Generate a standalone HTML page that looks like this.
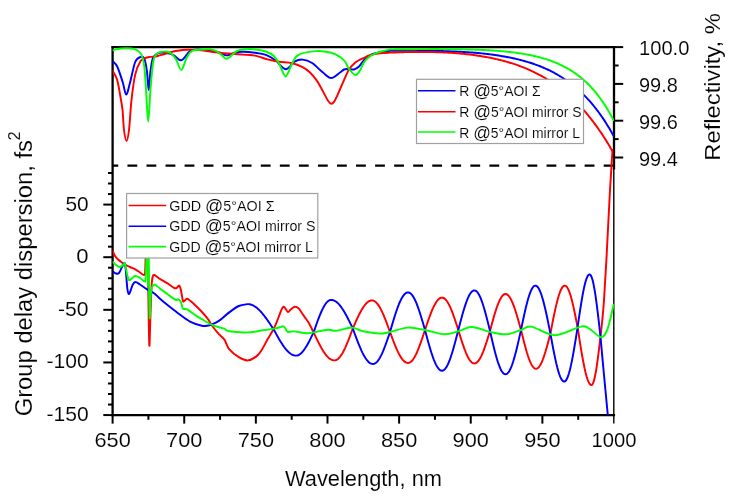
<!DOCTYPE html>
<html><head><meta charset="utf-8"><style>
html,body{margin:0;padding:0;background:#fff;width:735px;height:500px;overflow:hidden}
svg{display:block;will-change:transform}
text{font-family:"Liberation Sans",sans-serif;fill:#000;stroke:#fff;stroke-width:0.12px}
</style></head><body>
<svg width="735" height="500" viewBox="0 0 735 500">
<defs><clipPath id="pc"><rect x="112.6" y="46.5" width="501.4" height="368.6"/></clipPath></defs>
<rect x="0" y="0" width="735" height="500" fill="#fff"/>
<g stroke="#000" stroke-linecap="butt">
<line x1="103.30" y1="415.07" x2="112.60" y2="415.07" stroke-width="2"/>
<line x1="108.00" y1="404.55" x2="112.60" y2="404.55" stroke-width="2"/>
<line x1="108.00" y1="394.02" x2="112.60" y2="394.02" stroke-width="2"/>
<line x1="108.00" y1="383.50" x2="112.60" y2="383.50" stroke-width="2"/>
<line x1="108.00" y1="372.98" x2="112.60" y2="372.98" stroke-width="2"/>
<line x1="103.30" y1="362.45" x2="112.60" y2="362.45" stroke-width="2"/>
<line x1="108.00" y1="351.92" x2="112.60" y2="351.92" stroke-width="2"/>
<line x1="108.00" y1="341.40" x2="112.60" y2="341.40" stroke-width="2"/>
<line x1="108.00" y1="330.88" x2="112.60" y2="330.88" stroke-width="2"/>
<line x1="108.00" y1="320.35" x2="112.60" y2="320.35" stroke-width="2"/>
<line x1="103.30" y1="309.82" x2="112.60" y2="309.82" stroke-width="2"/>
<line x1="108.00" y1="299.30" x2="112.60" y2="299.30" stroke-width="2"/>
<line x1="108.00" y1="288.77" x2="112.60" y2="288.77" stroke-width="2"/>
<line x1="108.00" y1="278.25" x2="112.60" y2="278.25" stroke-width="2"/>
<line x1="108.00" y1="267.72" x2="112.60" y2="267.72" stroke-width="2"/>
<line x1="103.30" y1="257.20" x2="112.60" y2="257.20" stroke-width="2"/>
<line x1="108.00" y1="246.67" x2="112.60" y2="246.67" stroke-width="2"/>
<line x1="108.00" y1="236.15" x2="112.60" y2="236.15" stroke-width="2"/>
<line x1="108.00" y1="225.62" x2="112.60" y2="225.62" stroke-width="2"/>
<line x1="108.00" y1="215.10" x2="112.60" y2="215.10" stroke-width="2"/>
<line x1="103.30" y1="204.57" x2="112.60" y2="204.57" stroke-width="2"/>
<line x1="108.00" y1="194.05" x2="112.60" y2="194.05" stroke-width="2"/>
<line x1="108.00" y1="183.52" x2="112.60" y2="183.52" stroke-width="2"/>
<line x1="108.00" y1="173.00" x2="112.60" y2="173.00" stroke-width="2"/>
<line x1="112.60" y1="415.10" x2="112.60" y2="423.60" stroke-width="2"/>
<line x1="148.41" y1="415.10" x2="148.41" y2="419.80" stroke-width="2"/>
<line x1="184.23" y1="415.10" x2="184.23" y2="423.60" stroke-width="2"/>
<line x1="220.05" y1="415.10" x2="220.05" y2="419.80" stroke-width="2"/>
<line x1="255.86" y1="415.10" x2="255.86" y2="423.60" stroke-width="2"/>
<line x1="291.68" y1="415.10" x2="291.68" y2="419.80" stroke-width="2"/>
<line x1="327.49" y1="415.10" x2="327.49" y2="423.60" stroke-width="2"/>
<line x1="363.31" y1="415.10" x2="363.31" y2="419.80" stroke-width="2"/>
<line x1="399.12" y1="415.10" x2="399.12" y2="423.60" stroke-width="2"/>
<line x1="434.94" y1="415.10" x2="434.94" y2="419.80" stroke-width="2"/>
<line x1="470.75" y1="415.10" x2="470.75" y2="423.60" stroke-width="2"/>
<line x1="506.57" y1="415.10" x2="506.57" y2="419.80" stroke-width="2"/>
<line x1="542.38" y1="415.10" x2="542.38" y2="423.60" stroke-width="2"/>
<line x1="578.20" y1="415.10" x2="578.20" y2="419.80" stroke-width="2"/>
<line x1="613.80" y1="415.10" x2="613.80" y2="423.60" stroke-width="1.4"/>
<line x1="614.00" y1="47.10" x2="623.20" y2="47.10" stroke-width="2"/>
<line x1="614.00" y1="65.50" x2="618.60" y2="65.50" stroke-width="2"/>
<line x1="614.00" y1="83.90" x2="623.20" y2="83.90" stroke-width="2"/>
<line x1="614.00" y1="102.30" x2="618.60" y2="102.30" stroke-width="2"/>
<line x1="614.00" y1="120.70" x2="623.20" y2="120.70" stroke-width="2"/>
<line x1="614.00" y1="139.10" x2="618.60" y2="139.10" stroke-width="2"/>
<line x1="614.00" y1="157.50" x2="623.20" y2="157.50" stroke-width="2"/>
</g>
<g stroke="#000" fill="none" stroke-linecap="square">
<line x1="112.6" y1="47.1" x2="112.6" y2="415.1" stroke-width="2.3"/>
<line x1="112.6" y1="47.1" x2="614" y2="47.1" stroke-width="2.2"/>
<line x1="112.6" y1="415.1" x2="614" y2="415.1" stroke-width="2.2"/>
<line x1="613.8" y1="47.1" x2="613.8" y2="415.1" stroke-width="1.4"/>
<line x1="614" y1="47.1" x2="614" y2="169.5" stroke-width="2.3" stroke-linecap="butt"/>
</g>
<line x1="112.6" y1="165.6" x2="614" y2="165.6" stroke="#000" stroke-width="2.2" stroke-dasharray="9.8 9.25" stroke-dashoffset="4.2"/>
<g fill="none" stroke-width="1.95" stroke-linejoin="round" stroke-linecap="round" clip-path="url(#pc)">
<path d="M112.80,251.00 C113.17,251.83 114.13,254.58 115.00,256.00 C115.87,257.42 116.83,258.42 118.00,259.50 C119.17,260.58 120.67,261.58 122.00,262.50 C123.33,263.42 124.67,264.25 126.00,265.00 C127.33,265.75 128.33,266.20 130.00,267.00 C131.67,267.80 134.33,268.88 136.00,269.80 C137.67,270.72 138.67,271.63 140.00,272.50 C141.33,273.37 143.13,275.25 144.00,275.00 C144.87,274.75 144.90,275.17 145.20,271.00 C145.50,266.83 145.58,256.00 145.80,250.00 C146.02,244.00 146.38,237.50 146.50,235.00" stroke="#ff0000"/>
<path d="M147.50,235.00 C147.63,244.17 148.00,271.67 148.30,290.00 C148.60,308.33 148.97,340.00 149.30,345.00 C149.63,350.00 149.92,329.93 150.30,320.00 C150.68,310.07 151.18,292.63 151.60,285.40 C152.02,278.17 152.33,278.33 152.80,276.60 C153.27,274.87 153.20,274.60 154.40,275.00 C155.60,275.40 157.87,277.63 160.00,279.00 C162.13,280.37 164.80,281.70 167.20,283.20 C169.60,284.70 172.80,287.23 174.40,288.00 C176.00,288.77 176.00,288.20 176.80,287.80 C177.60,287.40 178.50,285.17 179.20,285.60 C179.90,286.03 180.40,287.90 181.00,290.40 C181.60,292.90 182.30,298.80 182.80,300.60 C183.30,302.40 183.30,301.50 184.00,301.20 C184.70,300.90 186.00,298.90 187.00,298.80 C188.00,298.70 188.50,299.40 190.00,300.60 C191.50,301.80 194.00,304.10 196.00,306.00 C198.00,307.90 200.00,309.80 202.00,312.00 C204.00,314.20 206.40,317.03 208.00,319.20 C209.60,321.37 209.93,322.67 211.60,325.00 C213.27,327.33 215.87,330.77 218.00,333.20 C220.13,335.63 222.53,336.93 224.40,339.60 C226.27,342.27 226.80,346.27 229.20,349.20 C231.60,352.13 235.73,355.33 238.80,357.20 C241.87,359.07 244.67,360.53 247.60,360.40 C250.53,360.27 254.00,358.22 256.40,356.40 C258.80,354.58 260.12,352.38 262.00,349.50 C263.88,346.62 265.70,342.63 267.70,339.10 C269.70,335.57 272.20,331.90 274.00,328.30 C275.80,324.70 277.30,320.50 278.50,317.50 C279.70,314.50 280.40,312.07 281.20,310.30 C282.00,308.53 282.62,307.23 283.30,306.90 C283.98,306.57 284.52,307.43 285.30,308.30 C286.08,309.17 287.08,311.92 288.00,312.10 C288.92,312.28 289.68,310.28 290.80,309.40 C291.92,308.52 293.42,306.98 294.70,306.80 C295.98,306.62 297.28,307.23 298.50,308.30 C299.72,309.37 300.92,311.67 302.00,313.20 C303.08,314.73 303.87,315.87 305.00,317.50 C306.13,319.13 307.37,320.52 308.80,323.00 C310.23,325.48 312.80,330.83 313.60,332.40 L313.60,332.40 L314.59,334.49 L315.58,336.57 L316.57,338.63 L317.56,340.65 L318.55,342.63 L319.54,344.55 L320.53,346.40 L321.52,348.17 L322.51,349.86 L323.50,351.44 L324.50,352.93 L325.49,354.29 L326.48,355.53 L327.47,356.65 L328.46,357.63 L329.45,358.46 L330.44,359.16 L331.43,359.70 L332.42,360.09 L333.41,360.32 L334.40,360.40 L335.37,360.29 L336.34,359.96 L337.31,359.42 L338.27,358.67 L339.24,357.70 L340.21,356.54 L341.18,355.19 L342.15,353.65 L343.12,351.94 L344.08,350.07 L345.05,348.05 L346.02,345.90 L346.99,343.63 L347.96,341.25 L348.93,338.79 L349.89,336.26 L350.86,333.67 L351.83,331.04 L352.80,328.40 L353.76,326.20 L354.72,324.02 L355.68,321.86 L356.64,319.75 L357.60,317.68 L358.56,315.69 L359.52,313.77 L360.48,311.94 L361.44,310.22 L362.40,308.60 L363.36,307.11 L364.32,305.75 L365.28,304.53 L366.24,303.45 L367.20,302.53 L368.16,301.77 L369.12,301.17 L370.08,300.74 L371.04,300.49 L372.00,300.40 L373.00,300.52 L374.00,300.88 L375.00,301.48 L376.00,302.31 L377.00,303.36 L378.00,304.63 L379.00,306.11 L380.00,307.79 L381.00,309.66 L382.00,311.69 L383.00,313.87 L384.00,316.20 L385.00,318.65 L386.00,321.19 L387.00,323.82 L388.00,326.51 L389.00,329.25 L390.00,332.00 L391.00,334.70 L392.00,337.38 L393.00,340.02 L394.00,342.60 L395.00,345.10 L396.00,347.50 L397.00,349.78 L398.00,351.93 L399.00,353.92 L400.00,355.75 L401.00,357.39 L402.00,358.85 L403.00,360.10 L404.00,361.13 L405.00,361.94 L406.00,362.53 L407.00,362.88 L408.00,363.00 L409.00,362.86 L410.00,362.44 L411.00,361.74 L412.00,360.77 L413.00,359.54 L414.00,358.06 L415.00,356.33 L416.00,354.39 L417.00,352.23 L418.00,349.89 L419.00,347.37 L420.00,344.71 L421.00,341.92 L422.00,339.03 L423.00,336.06 L424.00,333.04 L425.00,330.00 L426.00,327.01 L427.00,324.05 L428.00,321.13 L429.00,318.30 L430.00,315.56 L431.00,312.94 L432.00,310.47 L433.00,308.17 L434.00,306.06 L435.00,304.14 L436.00,302.45 L437.00,301.00 L438.00,299.79 L439.00,298.84 L440.00,298.15 L441.00,297.74 L442.00,297.60 L442.96,297.74 L443.92,298.15 L444.88,298.84 L445.84,299.79 L446.79,301.00 L447.75,302.45 L448.71,304.14 L449.67,306.06 L450.63,308.17 L451.59,310.47 L452.55,312.94 L453.51,315.56 L454.46,318.30 L455.42,321.13 L456.38,324.05 L457.34,327.01 L458.30,330.00 L459.25,333.09 L460.19,336.16 L461.14,339.17 L462.09,342.10 L463.04,344.93 L463.98,347.64 L464.93,350.19 L465.88,352.57 L466.82,354.76 L467.77,356.73 L468.72,358.48 L469.66,359.99 L470.61,361.24 L471.56,362.22 L472.51,362.93 L473.45,363.36 L474.40,363.50 L475.38,363.34 L476.35,362.88 L477.32,362.10 L478.30,361.03 L479.27,359.66 L480.25,358.02 L481.22,356.12 L482.20,353.98 L483.18,351.62 L484.15,349.06 L485.12,346.32 L486.10,343.44 L487.07,340.43 L488.05,337.34 L489.02,334.19 L490.00,331.00 L490.97,327.37 L491.94,323.78 L492.91,320.26 L493.88,316.84 L494.84,313.56 L495.81,310.44 L496.78,307.53 L497.75,304.84 L498.72,302.40 L499.69,300.24 L500.66,298.37 L501.62,296.82 L502.59,295.59 L503.56,294.71 L504.53,294.18 L505.50,294.00 L506.47,294.17 L507.44,294.69 L508.41,295.55 L509.38,296.74 L510.34,298.25 L511.31,300.07 L512.28,302.17 L513.25,304.54 L514.22,307.16 L515.19,310.00 L516.16,313.03 L517.12,316.22 L518.09,319.55 L519.06,322.98 L520.03,326.47 L521.00,330.00 L522.00,334.06 L523.00,338.07 L524.00,341.99 L525.00,345.78 L526.00,349.40 L527.00,352.81 L528.00,355.96 L529.00,358.83 L530.00,361.39 L531.00,363.60 L532.00,365.45 L533.00,366.90 L534.00,367.95 L535.00,368.59 L536.00,368.80 L536.96,368.61 L537.92,368.03 L538.88,367.08 L539.84,365.76 L540.80,364.08 L541.76,362.08 L542.72,359.76 L543.68,357.15 L544.64,354.29 L545.60,351.20 L546.56,347.92 L547.52,344.48 L548.48,340.92 L549.44,337.28 L550.40,333.60 L551.36,328.58 L552.32,323.62 L553.28,318.77 L554.24,314.08 L555.20,309.60 L556.16,305.39 L557.12,301.48 L558.08,297.93 L559.04,294.77 L560.00,292.03 L560.96,289.75 L561.92,287.95 L562.88,286.65 L563.84,285.86 L564.80,285.60 L565.78,285.90 L566.77,286.81 L567.75,288.30 L568.74,290.37 L569.72,292.96 L570.71,296.06 L571.69,299.61 L572.68,303.57 L573.66,307.87 L574.65,312.45 L575.63,317.24 L576.62,322.19 L577.60,327.20 L578.59,333.68 L579.59,340.08 L580.58,346.32 L581.57,352.32 L582.56,358.00 L583.56,363.30 L584.55,368.14 L585.54,372.47 L586.54,376.23 L587.53,379.37 L588.52,381.85 L589.51,383.65 L590.51,384.74 L591.50,385.10 L592.50,384.37 L593.50,382.19 L594.50,378.63 L595.50,373.80 L596.50,367.85 L597.50,360.95 L598.50,353.32 L599.50,345.19 L600.50,336.80 L600.50,336.80 C600.83,333.67 601.92,324.13 602.50,318.00 C603.08,311.87 603.35,309.67 604.00,300.00 C604.65,290.33 605.40,278.33 606.40,260.00 C607.40,241.67 608.98,208.33 610.00,190.00 C611.02,171.67 612.08,156.67 612.50,150.00" stroke="#ff0000"/>
<path d="M113.00,271.50 C113.50,271.83 115.00,273.25 116.00,273.50 C117.00,273.75 118.00,274.08 119.00,273.00 C120.00,271.92 121.08,268.67 122.00,267.00 C122.92,265.33 123.90,262.83 124.50,263.00 C125.10,263.17 125.28,265.58 125.60,268.00 C125.92,270.42 126.12,274.12 126.40,277.50 C126.68,280.88 126.92,285.57 127.30,288.30 C127.68,291.03 128.17,293.45 128.70,293.90 C129.23,294.35 129.83,292.53 130.50,291.00 C131.17,289.47 131.88,286.20 132.70,284.70 C133.52,283.20 134.18,282.03 135.40,282.00 C136.62,281.97 138.40,283.50 140.00,284.50 C141.60,285.50 143.33,286.92 145.00,288.00 C146.67,289.08 148.33,290.00 150.00,291.00 C151.67,292.00 153.33,292.70 155.00,294.00 C156.67,295.30 157.97,297.00 160.00,298.80 C162.03,300.60 164.20,302.40 167.20,304.80 C170.20,307.20 174.20,310.40 178.00,313.20 C181.80,316.00 186.00,319.50 190.00,321.60 C194.00,323.70 199.00,325.15 202.00,325.80 C205.00,326.45 206.40,325.70 208.00,325.50 C209.60,325.30 209.67,325.45 211.60,324.60 C213.53,323.75 216.67,322.43 219.60,320.40 C222.53,318.37 226.00,314.80 229.20,312.40 C232.40,310.00 235.73,307.38 238.80,306.00 C241.87,304.62 246.13,304.42 247.60,304.10 L247.60,304.10 L248.58,304.14 L249.56,304.28 L250.53,304.49 L251.51,304.80 L252.49,305.19 L253.47,305.66 L254.44,306.22 L255.42,306.85 L256.40,307.57 L257.38,308.36 L258.36,309.23 L259.33,310.16 L260.31,311.16 L261.29,312.23 L262.27,313.35 L263.24,314.53 L264.22,315.77 L265.20,317.05 L266.18,318.38 L267.16,319.74 L268.13,321.14 L269.11,322.57 L270.09,324.03 L271.07,325.50 L272.04,326.99 L273.02,328.49 L274.00,330.00 L275.00,331.83 L276.00,333.64 L277.00,335.44 L278.00,337.21 L279.00,338.95 L280.00,340.63 L281.00,342.27 L282.00,343.84 L283.00,345.34 L284.00,346.76 L285.00,348.10 L286.00,349.35 L287.00,350.49 L288.00,351.54 L289.00,352.47 L290.00,353.29 L291.00,353.99 L292.00,354.56 L293.00,355.01 L294.00,355.34 L295.00,355.53 L296.00,355.60 L296.98,355.51 L297.96,355.25 L298.93,354.81 L299.91,354.20 L300.89,353.43 L301.87,352.49 L302.84,351.40 L303.82,350.17 L304.80,348.80 L305.78,347.31 L306.76,345.71 L307.73,344.00 L308.71,342.20 L309.69,340.33 L310.67,338.40 L311.64,336.43 L312.62,334.42 L313.60,332.40 L314.58,329.57 L315.56,326.76 L316.53,323.99 L317.51,321.28 L318.49,318.66 L319.47,316.15 L320.44,313.76 L321.42,311.51 L322.40,309.42 L323.38,307.50 L324.36,305.78 L325.33,304.25 L326.31,302.94 L327.29,301.86 L328.27,301.01 L329.24,300.39 L330.22,300.02 L331.20,299.90 L332.18,299.97 L333.16,300.19 L334.15,300.55 L335.13,301.05 L336.11,301.70 L337.09,302.48 L338.07,303.39 L339.05,304.42 L340.04,305.58 L341.02,306.86 L342.00,308.25 L342.98,309.74 L343.96,311.32 L344.95,312.99 L345.93,314.74 L346.91,316.56 L347.89,318.44 L348.87,320.37 L349.85,322.34 L350.84,324.34 L351.82,326.37 L352.80,328.40 L353.76,331.06 L354.72,333.71 L355.69,336.32 L356.65,338.89 L357.61,341.41 L358.57,343.85 L359.53,346.20 L360.50,348.45 L361.46,350.60 L362.42,352.61 L363.38,354.50 L364.34,356.23 L365.30,357.81 L366.27,359.23 L367.23,360.47 L368.19,361.54 L369.15,362.42 L370.11,363.11 L371.08,363.60 L372.04,363.90 L373.00,364.00 L374.00,363.86 L375.00,363.46 L376.00,362.78 L377.00,361.84 L378.00,360.65 L379.00,359.21 L380.00,357.54 L381.00,355.65 L382.00,353.56 L383.00,351.28 L384.00,348.85 L385.00,346.26 L386.00,343.56 L387.00,340.76 L388.00,337.88 L389.00,334.95 L390.00,332.00 L391.00,328.55 L392.00,325.12 L393.00,321.75 L394.00,318.46 L395.00,315.26 L396.00,312.20 L397.00,309.29 L398.00,306.55 L399.00,304.00 L400.00,301.66 L401.00,299.56 L402.00,297.71 L403.00,296.11 L404.00,294.79 L405.00,293.75 L406.00,293.00 L407.00,292.55 L408.00,292.40 L409.00,292.56 L410.00,293.04 L411.00,293.84 L412.00,294.94 L413.00,296.34 L414.00,298.03 L415.00,299.99 L416.00,302.21 L417.00,304.67 L418.00,307.34 L419.00,310.21 L420.00,313.24 L421.00,316.42 L422.00,319.71 L423.00,323.09 L424.00,326.53 L425.00,330.00 L426.00,333.76 L427.00,337.48 L428.00,341.14 L429.00,344.70 L430.00,348.14 L431.00,351.43 L432.00,354.53 L433.00,357.42 L434.00,360.08 L435.00,362.48 L436.00,364.60 L437.00,366.43 L438.00,367.95 L439.00,369.15 L440.00,370.01 L441.00,370.53 L442.00,370.70 L442.96,370.53 L443.92,370.01 L444.88,369.15 L445.84,367.95 L446.79,366.43 L447.75,364.60 L448.71,362.48 L449.67,360.08 L450.63,357.42 L451.59,354.53 L452.55,351.43 L453.51,348.14 L454.46,344.70 L455.42,341.14 L456.38,337.48 L457.34,333.76 L458.30,330.00 L459.25,326.35 L460.19,322.72 L461.14,319.16 L462.09,315.69 L463.04,312.35 L463.98,309.15 L464.93,306.14 L465.88,303.32 L466.82,300.74 L467.77,298.40 L468.72,296.33 L469.66,294.55 L470.61,293.07 L471.56,291.91 L472.51,291.07 L473.45,290.57 L474.40,290.40 L475.38,290.60 L476.35,291.18 L477.32,292.15 L478.30,293.49 L479.27,295.19 L480.25,297.24 L481.22,299.62 L482.20,302.29 L483.18,305.24 L484.15,308.44 L485.12,311.86 L486.10,315.46 L487.07,319.21 L488.05,323.08 L489.02,327.02 L490.00,331.00 L490.97,335.24 L491.94,339.45 L492.91,343.57 L493.88,347.57 L494.84,351.41 L495.81,355.06 L496.78,358.47 L497.75,361.62 L498.72,364.47 L499.69,367.00 L500.66,369.19 L501.62,371.00 L502.59,372.44 L503.56,373.47 L504.53,374.09 L505.50,374.30 L506.47,374.09 L507.44,373.45 L508.41,372.39 L509.38,370.93 L510.34,369.07 L511.31,366.83 L512.28,364.24 L513.25,361.32 L514.22,358.10 L515.19,354.61 L516.16,350.88 L517.12,346.95 L518.09,342.86 L519.06,338.64 L520.03,334.34 L521.00,330.00 L521.96,325.36 L522.92,320.77 L523.88,316.28 L524.84,311.94 L525.80,307.80 L526.76,303.90 L527.72,300.29 L528.68,297.00 L529.64,294.08 L530.60,291.55 L531.56,289.44 L532.52,287.77 L533.48,286.57 L534.44,285.84 L535.40,285.60 L536.40,285.86 L537.40,286.65 L538.40,287.95 L539.40,289.75 L540.40,292.03 L541.40,294.77 L542.40,297.93 L543.40,301.48 L544.40,305.39 L545.40,309.60 L546.40,314.08 L547.40,318.77 L548.40,323.62 L549.40,328.58 L550.40,333.60 L551.39,338.97 L552.37,344.28 L553.36,349.45 L554.34,354.43 L555.33,359.14 L556.31,363.53 L557.30,367.54 L558.29,371.13 L559.27,374.24 L560.26,376.85 L561.24,378.91 L562.23,380.40 L563.21,381.30 L564.20,381.60 L565.16,381.26 L566.11,380.24 L567.07,378.55 L568.03,376.21 L568.99,373.26 L569.94,369.73 L570.90,365.67 L571.86,361.12 L572.81,356.14 L573.77,350.80 L574.73,345.17 L575.69,339.31 L576.64,333.29 L577.60,327.20 L578.60,320.31 L579.60,313.53 L580.60,306.99 L581.60,300.80 L582.60,295.06 L583.60,289.86 L584.60,285.31 L585.60,281.47 L586.60,278.42 L587.60,276.20 L588.60,274.85 L589.60,274.40 L590.59,275.04 L591.58,276.93 L592.57,280.04 L593.56,284.31 L594.55,289.64 L595.55,295.94 L596.54,303.06 L597.53,310.88 L598.52,319.22 L599.51,327.92 L600.50,336.80 L600.50,336.80 C601.08,343.17 602.82,362.30 604.00,375.00 C605.18,387.70 606.93,405.50 607.60,413.00 C608.27,420.50 607.93,418.83 608.00,420.00" stroke="#0000ff"/>
<path d="M113.00,262.00 C113.50,262.50 114.83,264.17 116.00,265.00 C117.17,265.83 118.67,267.17 120.00,267.00 C121.33,266.83 123.17,264.50 124.00,264.00 C124.83,263.50 124.33,261.67 125.00,264.00 C125.67,266.33 127.17,275.33 128.00,278.00 C128.83,280.67 128.83,280.33 130.00,280.00 C131.17,279.67 133.33,276.33 135.00,276.00 C136.67,275.67 138.50,277.17 140.00,278.00 C141.50,278.83 143.07,280.83 144.00,281.00 C144.93,281.17 145.18,283.33 145.60,279.00 C146.02,274.67 146.27,262.33 146.50,255.00 C146.73,247.67 146.92,238.33 147.00,235.00" stroke="#00ff00"/>
<path d="M148.60,235.00 C148.67,242.50 148.82,266.17 149.00,280.00 C149.18,293.83 149.45,314.67 149.70,318.00 C149.95,321.33 150.18,304.90 150.50,300.00 C150.82,295.10 150.95,291.17 151.60,288.60 C152.25,286.03 153.00,284.62 154.40,284.60 C155.80,284.58 157.87,286.93 160.00,288.50 C162.13,290.07 164.60,292.12 167.20,294.00 C169.80,295.88 173.70,298.90 175.60,299.80 C177.50,300.70 177.70,298.97 178.60,299.40 C179.50,299.83 180.30,300.90 181.00,302.40 C181.70,303.90 182.10,307.30 182.80,308.40 C183.50,309.50 184.40,308.80 185.20,309.00 C186.00,309.20 185.80,308.50 187.60,309.60 C189.40,310.70 193.60,314.00 196.00,315.60 C198.40,317.20 199.40,317.70 202.00,319.20 C204.60,320.70 208.60,323.20 211.60,324.60 C214.60,326.00 217.87,326.92 220.00,327.60 C222.13,328.28 222.87,328.08 224.40,328.70 C225.93,329.32 225.33,330.68 229.20,331.30 C233.07,331.92 242.00,332.57 247.60,332.40 C253.20,332.23 258.40,330.93 262.80,330.30 C267.20,329.67 271.13,329.10 274.00,328.60 C276.87,328.10 278.50,327.70 280.00,327.30 C281.50,326.90 282.17,326.08 283.00,326.20 C283.83,326.32 284.25,327.10 285.00,328.00 C285.75,328.90 286.58,330.97 287.50,331.60 C288.42,332.23 289.42,331.83 290.50,331.80 C291.58,331.77 291.22,331.17 294.00,331.40 C296.78,331.63 303.93,333.03 307.20,333.20 C310.47,333.37 310.13,332.98 313.60,332.40 C317.07,331.82 324.27,329.97 328.00,329.70 C331.73,329.43 332.00,331.15 336.00,330.80 C340.00,330.45 347.67,327.57 352.00,327.60 C356.33,327.63 357.33,330.00 362.00,331.00 C366.67,332.00 375.33,333.43 380.00,333.60 C384.67,333.77 385.33,333.00 390.00,332.00 C394.67,331.00 402.17,327.93 408.00,327.60 C413.83,327.27 418.93,328.88 425.00,330.00 C431.07,331.12 438.85,334.10 444.40,334.30 C449.95,334.50 453.70,332.42 458.30,331.20 C462.90,329.98 466.72,326.88 472.00,327.00 C477.28,327.12 484.22,330.68 490.00,331.90 C495.78,333.12 501.53,334.62 506.70,334.30 C511.87,333.98 516.92,331.28 521.00,330.00 C525.08,328.72 525.50,325.73 531.20,326.60 C536.90,327.47 546.93,335.20 555.20,335.20 C563.47,335.20 575.07,327.67 580.80,326.60 C586.53,325.53 586.22,327.03 589.60,328.80 C592.98,330.57 598.10,337.20 601.10,337.20 C604.10,337.20 605.52,334.20 607.60,328.80 C609.68,323.40 612.60,308.80 613.60,304.80" stroke="#00ff00"/>
<path d="M147.8,235 L148.1,285" stroke="#00ff00"/>
<path d="M112.70,61.10 C113.45,62.00 115.55,63.05 117.20,66.50 C118.85,69.95 121.10,77.13 122.60,81.80 C124.10,86.47 125.00,94.20 126.20,94.50 C127.40,94.80 128.30,89.02 129.80,83.60 C131.30,78.18 133.40,66.43 135.20,62.00 C137.00,57.57 139.10,57.60 140.60,57.00 C142.10,56.40 143.15,56.07 144.20,58.40 C145.25,60.73 146.15,65.73 146.90,71.00 C147.65,76.27 148.10,90.00 148.70,90.00 C149.30,90.00 149.75,76.42 150.50,71.00 C151.25,65.58 151.85,60.50 153.20,57.50 C154.55,54.50 156.63,53.78 158.60,53.00 C160.57,52.22 162.57,52.48 165.00,52.80 C167.43,53.12 170.48,53.65 173.20,54.90 C175.92,56.15 178.58,60.87 181.30,60.30 C184.02,59.73 187.23,53.27 189.50,51.50 C191.77,49.73 192.18,49.93 194.90,49.70 C197.62,49.47 201.85,49.68 205.80,50.10 C209.75,50.52 215.12,51.32 218.60,52.20 C222.08,53.08 223.98,55.33 226.70,55.40 C229.42,55.47 232.18,53.20 234.90,52.60 C237.62,52.00 239.65,51.77 243.00,51.80 C246.35,51.83 251.18,52.28 255.00,52.80 C258.82,53.32 262.50,53.65 265.90,54.90 C269.30,56.15 272.12,57.92 275.40,60.30 C278.68,62.68 282.42,68.97 285.60,69.20 C288.78,69.43 291.67,63.30 294.50,61.70 C297.33,60.10 299.67,59.38 302.60,59.60 C305.53,59.82 308.70,60.83 312.10,63.00 C315.50,65.17 319.82,70.10 323.00,72.60 C326.18,75.10 328.37,78.02 331.20,78.00 C334.03,77.98 337.87,73.92 340.00,72.50 C342.13,71.08 342.75,70.08 344.00,69.50 C345.25,68.92 345.83,69.00 347.50,69.00 C349.17,69.00 352.08,69.92 354.00,69.50 C355.92,69.08 357.17,68.25 359.00,66.50 C360.83,64.75 362.80,61.05 365.00,59.00 C367.20,56.95 369.70,55.32 372.20,54.20 C374.70,53.08 377.03,52.87 380.00,52.30 C382.97,51.73 388.08,51.06 390.00,50.81 C391.92,50.56 391.00,50.80 391.50,50.79 C392.00,50.79 392.50,50.78 393.00,50.78 C393.50,50.77 394.00,50.77 394.50,50.76 C395.00,50.76 395.50,50.75 396.00,50.75 C396.50,50.74 397.00,50.74 397.50,50.73 C398.00,50.73 398.50,50.73 399.00,50.72 C399.50,50.72 400.00,50.71 400.50,50.71 C401.00,50.71 401.50,50.70 402.00,50.70 C402.50,50.70 403.00,50.70 403.50,50.69 C404.00,50.69 404.50,50.69 405.00,50.69 C405.50,50.68 406.00,50.68 406.50,50.68 C407.00,50.68 407.50,50.68 408.00,50.68 C408.50,50.67 409.00,50.67 409.50,50.67 C410.00,50.67 410.50,50.67 411.00,50.67 C411.50,50.67 412.00,50.67 412.50,50.67 C413.00,50.67 413.50,50.67 414.00,50.67 C414.50,50.67 415.00,50.67 415.50,50.68 C416.00,50.68 416.50,50.68 417.00,50.68 C417.50,50.68 418.00,50.68 418.50,50.69 C419.00,50.69 419.50,50.69 420.00,50.69 C420.50,50.70 421.00,50.70 421.50,50.70 C422.00,50.71 422.50,50.71 423.00,50.72 C423.50,50.72 424.00,50.72 424.50,50.73 C425.00,50.73 425.50,50.74 426.00,50.74 C426.50,50.75 427.00,50.76 427.50,50.76 C428.00,50.77 428.50,50.77 429.00,50.78 C429.50,50.79 430.00,50.80 430.50,50.80 C431.00,50.81 431.50,50.82 432.00,50.83 C432.50,50.83 433.00,50.84 433.50,50.85 C434.00,50.86 434.50,50.87 435.00,50.88 C435.50,50.89 436.00,50.90 436.50,50.91 C437.00,50.92 437.50,50.93 438.00,50.94 C438.50,50.96 439.00,50.97 439.50,50.98 C440.00,50.99 440.50,51.00 441.00,51.02 C441.50,51.03 442.00,51.04 442.50,51.06 C443.00,51.07 443.50,51.09 444.00,51.10 C444.50,51.12 445.00,51.13 445.50,51.15 C446.00,51.16 446.50,51.18 447.00,51.20 C447.50,51.21 448.00,51.23 448.50,51.25 C449.00,51.27 449.50,51.29 450.00,51.31 C450.50,51.32 451.00,51.34 451.50,51.36 C452.00,51.38 452.50,51.40 453.00,51.43 C453.50,51.45 454.00,51.47 454.50,51.49 C455.00,51.51 455.50,51.54 456.00,51.56 C456.50,51.58 457.00,51.61 457.50,51.63 C458.00,51.66 458.50,51.68 459.00,51.71 C459.50,51.73 460.00,51.76 460.50,51.79 C461.00,51.82 461.50,51.84 462.00,51.87 C462.50,51.90 463.00,51.93 463.50,51.96 C464.00,51.99 464.50,52.02 465.00,52.05 C465.50,52.08 466.00,52.12 466.50,52.15 C467.00,52.18 467.50,52.21 468.00,52.25 C468.50,52.28 469.00,52.32 469.50,52.35 C470.00,52.39 470.50,52.43 471.00,52.46 C471.50,52.50 472.00,52.54 472.50,52.58 C473.00,52.62 473.50,52.66 474.00,52.70 C474.50,52.74 475.00,52.78 475.50,52.83 C476.00,52.87 476.50,52.91 477.00,52.96 C477.50,53.00 478.00,53.05 478.50,53.09 C479.00,53.14 479.50,53.19 480.00,53.23 C480.50,53.28 481.00,53.33 481.50,53.38 C482.00,53.43 482.50,53.48 483.00,53.53 C483.50,53.59 484.00,53.64 484.50,53.69 C485.00,53.75 485.50,53.80 486.00,53.86 C486.50,53.92 487.00,53.97 487.50,54.03 C488.00,54.09 488.50,54.15 489.00,54.21 C489.50,54.27 490.00,54.34 490.50,54.40 C491.00,54.46 491.50,54.53 492.00,54.59 C492.50,54.66 493.00,54.72 493.50,54.79 C494.00,54.86 494.50,54.93 495.00,55.00 C495.50,55.07 496.00,55.14 496.50,55.22 C497.00,55.29 497.50,55.37 498.00,55.44 C498.50,55.52 499.00,55.60 499.50,55.68 C500.00,55.75 500.50,55.84 501.00,55.92 C501.50,56.00 502.00,56.08 502.50,56.17 C503.00,56.25 503.50,56.34 504.00,56.43 C504.50,56.52 505.00,56.60 505.50,56.70 C506.00,56.79 506.50,56.88 507.00,56.97 C507.50,57.07 508.00,57.17 508.50,57.26 C509.00,57.36 509.50,57.46 510.00,57.56 C510.50,57.66 511.00,57.77 511.50,57.87 C512.00,57.98 512.50,58.08 513.00,58.19 C513.50,58.30 514.00,58.41 514.50,58.52 C515.00,58.64 515.50,58.75 516.00,58.87 C516.50,58.98 517.00,59.10 517.50,59.22 C518.00,59.34 518.50,59.47 519.00,59.59 C519.50,59.71 520.00,59.84 520.50,59.97 C521.00,60.10 521.50,60.23 522.00,60.36 C522.50,60.50 523.00,60.63 523.50,60.77 C524.00,60.91 524.50,61.05 525.00,61.19 C525.50,61.33 526.00,61.48 526.50,61.63 C527.00,61.77 527.50,61.92 528.00,62.08 C528.50,62.23 529.00,62.38 529.50,62.54 C530.00,62.70 530.50,62.86 531.00,63.02 C531.50,63.19 532.00,63.35 532.50,63.52 C533.00,63.69 533.50,63.86 534.00,64.03 C534.50,64.21 535.00,64.38 535.50,64.56 C536.00,64.74 536.50,64.93 537.00,65.11 C537.50,65.30 538.00,65.49 538.50,65.68 C539.00,65.87 539.50,66.07 540.00,66.26 C540.50,66.46 541.00,66.66 541.50,66.87 C542.00,67.07 542.50,67.28 543.00,67.49 C543.50,67.70 544.00,67.92 544.50,68.14 C545.00,68.36 545.50,68.58 546.00,68.80 C546.50,69.03 547.00,69.26 547.50,69.49 C548.00,69.72 548.50,69.96 549.00,70.20 C549.50,70.44 550.00,70.69 550.50,70.94 C551.00,71.18 551.50,71.44 552.00,71.69 C552.50,71.95 553.00,72.21 553.50,72.48 C554.00,72.74 554.50,73.01 555.00,73.28 C555.50,73.56 556.00,73.83 556.50,74.12 C557.00,74.40 557.50,74.68 558.00,74.98 C558.50,75.27 559.00,75.56 559.50,75.86 C560.00,76.16 560.50,76.47 561.00,76.78 C561.50,77.09 562.00,77.41 562.50,77.73 C563.00,78.05 563.50,78.37 564.00,78.70 C564.50,79.03 565.00,79.37 565.50,79.71 C566.00,80.05 566.50,80.40 567.00,80.75 C567.50,81.10 568.00,81.46 568.50,81.82 C569.00,82.19 569.50,82.55 570.00,82.93 C570.50,83.30 571.00,83.68 571.50,84.07 C572.00,84.46 572.50,84.85 573.00,85.25 C573.50,85.65 574.00,86.05 574.50,86.47 C575.00,86.88 575.50,87.29 576.00,87.72 C576.50,88.14 577.00,88.58 577.50,89.01 C578.00,89.45 578.50,89.90 579.00,90.35 C579.50,90.80 580.00,91.26 580.50,91.73 C581.00,92.19 581.50,92.66 582.00,93.15 C582.50,93.63 583.00,94.11 583.50,94.61 C584.00,95.11 584.50,95.61 585.00,96.12 C585.50,96.63 586.00,97.15 586.50,97.68 C587.00,98.21 587.50,98.74 588.00,99.29 C588.50,99.83 589.00,100.38 589.50,100.95 C590.00,101.51 590.50,102.08 591.00,102.66 C591.50,103.24 592.00,103.82 592.50,104.42 C593.00,105.02 593.50,105.62 594.00,106.24 C594.50,106.85 595.00,107.48 595.50,108.11 C596.00,108.75 596.50,109.39 597.00,110.05 C597.50,110.70 598.00,111.37 598.50,112.04 C599.00,112.72 599.50,113.40 600.00,114.10 C600.50,114.80 601.00,115.50 601.50,116.22 C602.00,116.94 602.50,117.67 603.00,118.41 C603.50,119.15 604.00,119.90 604.50,120.66 C605.00,121.43 605.50,122.20 606.00,122.99 C606.50,123.78 607.00,124.57 607.50,125.39 C608.00,126.20 608.50,127.02 609.00,127.86 C609.50,128.70 610.00,129.54 610.50,130.41 C611.00,131.27 611.50,132.15 612.00,133.03 C612.50,133.92 613.25,135.29 613.50,135.74" stroke="#0000ff"/>
<path d="M112.70,71.00 C113.45,72.50 115.82,75.17 117.20,80.00 C118.58,84.83 120.10,94.88 121.00,100.00 C121.90,105.12 122.10,105.70 122.60,110.70 C123.10,115.70 123.35,124.95 124.00,130.00 C124.65,135.05 125.67,141.00 126.50,141.00 C127.33,141.00 128.17,136.83 129.00,130.00 C129.83,123.17 130.47,109.23 131.50,100.00 C132.53,90.77 133.68,81.08 135.20,74.60 C136.72,68.12 138.90,63.87 140.60,61.10 C142.30,58.33 143.80,58.70 145.40,58.00 C147.00,57.30 148.27,57.20 150.20,56.90 C152.13,56.60 154.73,56.65 157.00,56.20 C159.27,55.75 161.53,54.87 163.80,54.20 C166.07,53.53 168.33,52.77 170.60,52.20 C172.87,51.63 174.67,51.20 177.40,50.80 C180.13,50.40 183.40,49.92 187.00,49.80 C190.60,49.68 193.60,49.60 199.00,50.10 C204.40,50.60 213.73,52.18 219.40,52.80 C225.07,53.42 228.47,53.45 233.00,53.80 C237.53,54.15 242.93,54.60 246.60,54.90 C250.27,55.20 251.33,54.82 255.00,55.60 C258.67,56.38 264.52,58.58 268.60,59.60 C272.68,60.62 275.65,61.13 279.50,61.70 C283.35,62.27 287.85,62.10 291.70,63.00 C295.55,63.90 299.55,65.52 302.60,67.10 C305.65,68.68 307.63,70.25 310.00,72.50 C312.37,74.75 314.97,78.05 316.80,80.60 C318.63,83.15 319.60,85.30 321.00,87.80 C322.40,90.30 324.00,93.40 325.20,95.60 C326.40,97.80 327.22,99.65 328.20,101.00 C329.18,102.35 330.10,103.60 331.10,103.70 C332.10,103.80 333.08,103.15 334.20,101.60 C335.32,100.05 336.60,97.00 337.80,94.40 C339.00,91.80 340.40,88.30 341.40,86.00 C342.40,83.70 342.53,83.35 343.80,80.60 C345.07,77.85 347.13,72.47 349.00,69.50 C350.87,66.53 353.17,64.43 355.00,62.80 C356.83,61.17 358.33,60.60 360.00,59.70 C361.67,58.80 363.33,58.13 365.00,57.40 C366.67,56.67 367.47,55.97 370.00,55.30 C372.53,54.63 376.87,53.84 380.20,53.40 C383.53,52.96 388.12,52.78 390.00,52.64 C391.88,52.51 391.00,52.60 391.50,52.58 C392.00,52.56 392.50,52.54 393.00,52.52 C393.50,52.50 394.00,52.49 394.50,52.47 C395.00,52.45 395.50,52.43 396.00,52.41 C396.50,52.40 397.00,52.38 397.50,52.36 C398.00,52.35 398.50,52.33 399.00,52.32 C399.50,52.30 400.00,52.29 400.50,52.27 C401.00,52.26 401.50,52.24 402.00,52.23 C402.50,52.22 403.00,52.20 403.50,52.19 C404.00,52.18 404.50,52.17 405.00,52.15 C405.50,52.14 406.00,52.13 406.50,52.12 C407.00,52.11 407.50,52.10 408.00,52.09 C408.50,52.08 409.00,52.07 409.50,52.06 C410.00,52.05 410.50,52.05 411.00,52.04 C411.50,52.03 412.00,52.02 412.50,52.02 C413.00,52.01 413.50,52.01 414.00,52.00 C414.50,51.99 415.00,51.99 415.50,51.99 C416.00,51.98 416.50,51.98 417.00,51.97 C417.50,51.97 418.00,51.97 418.50,51.97 C419.00,51.97 419.50,51.96 420.00,51.96 C420.50,51.96 421.00,51.96 421.50,51.96 C422.00,51.96 422.50,51.97 423.00,51.97 C423.50,51.97 424.00,51.97 424.50,51.98 C425.00,51.98 425.50,51.98 426.00,51.99 C426.50,51.99 427.00,52.00 427.50,52.00 C428.00,52.01 428.50,52.01 429.00,52.02 C429.50,52.03 430.00,52.04 430.50,52.05 C431.00,52.05 431.50,52.06 432.00,52.07 C432.50,52.08 433.00,52.10 433.50,52.11 C434.00,52.12 434.50,52.13 435.00,52.14 C435.50,52.16 436.00,52.17 436.50,52.19 C437.00,52.20 437.50,52.22 438.00,52.23 C438.50,52.25 439.00,52.27 439.50,52.28 C440.00,52.30 440.50,52.32 441.00,52.34 C441.50,52.36 442.00,52.38 442.50,52.40 C443.00,52.42 443.50,52.44 444.00,52.47 C444.50,52.49 445.00,52.51 445.50,52.54 C446.00,52.56 446.50,52.59 447.00,52.62 C447.50,52.64 448.00,52.67 448.50,52.70 C449.00,52.73 449.50,52.76 450.00,52.79 C450.50,52.82 451.00,52.85 451.50,52.88 C452.00,52.91 452.50,52.94 453.00,52.98 C453.50,53.01 454.00,53.05 454.50,53.08 C455.00,53.12 455.50,53.16 456.00,53.20 C456.50,53.23 457.00,53.27 457.50,53.31 C458.00,53.35 458.50,53.40 459.00,53.44 C459.50,53.48 460.00,53.53 460.50,53.57 C461.00,53.61 461.50,53.66 462.00,53.71 C462.50,53.75 463.00,53.80 463.50,53.85 C464.00,53.90 464.50,53.95 465.00,54.00 C465.50,54.06 466.00,54.11 466.50,54.16 C467.00,54.22 467.50,54.27 468.00,54.33 C468.50,54.38 469.00,54.44 469.50,54.50 C470.00,54.56 470.50,54.62 471.00,54.68 C471.50,54.74 472.00,54.81 472.50,54.87 C473.00,54.94 473.50,55.00 474.00,55.07 C474.50,55.14 475.00,55.20 475.50,55.27 C476.00,55.34 476.50,55.41 477.00,55.49 C477.50,55.56 478.00,55.63 478.50,55.71 C479.00,55.78 479.50,55.86 480.00,55.94 C480.50,56.02 481.00,56.10 481.50,56.18 C482.00,56.26 482.50,56.34 483.00,56.43 C483.50,56.51 484.00,56.60 484.50,56.69 C485.00,56.77 485.50,56.86 486.00,56.95 C486.50,57.04 487.00,57.14 487.50,57.23 C488.00,57.33 488.50,57.42 489.00,57.52 C489.50,57.62 490.00,57.72 490.50,57.82 C491.00,57.92 491.50,58.02 492.00,58.12 C492.50,58.23 493.00,58.33 493.50,58.44 C494.00,58.55 494.50,58.66 495.00,58.77 C495.50,58.88 496.00,59.00 496.50,59.11 C497.00,59.23 497.50,59.35 498.00,59.46 C498.50,59.58 499.00,59.70 499.50,59.83 C500.00,59.95 500.50,60.08 501.00,60.20 C501.50,60.33 502.00,60.46 502.50,60.59 C503.00,60.72 503.50,60.86 504.00,60.99 C504.50,61.13 505.00,61.26 505.50,61.40 C506.00,61.54 506.50,61.69 507.00,61.83 C507.50,61.97 508.00,62.12 508.50,62.27 C509.00,62.42 509.50,62.57 510.00,62.72 C510.50,62.87 511.00,63.03 511.50,63.19 C512.00,63.35 512.50,63.51 513.00,63.67 C513.50,63.83 514.00,64.00 514.50,64.16 C515.00,64.33 515.50,64.50 516.00,64.67 C516.50,64.85 517.00,65.02 517.50,65.20 C518.00,65.38 518.50,65.56 519.00,65.74 C519.50,65.92 520.00,66.11 520.50,66.30 C521.00,66.48 521.50,66.67 522.00,66.87 C522.50,67.06 523.00,67.26 523.50,67.46 C524.00,67.66 524.50,67.86 525.00,68.06 C525.50,68.27 526.00,68.48 526.50,68.69 C527.00,68.90 527.50,69.11 528.00,69.33 C528.50,69.54 529.00,69.76 529.50,69.99 C530.00,70.21 530.50,70.44 531.00,70.66 C531.50,70.89 532.00,71.13 532.50,71.36 C533.00,71.60 533.50,71.84 534.00,72.08 C534.50,72.32 535.00,72.56 535.50,72.81 C536.00,73.06 536.50,73.31 537.00,73.57 C537.50,73.82 538.00,74.08 538.50,74.35 C539.00,74.61 539.50,74.87 540.00,75.14 C540.50,75.41 541.00,75.69 541.50,75.96 C542.00,76.24 542.50,76.52 543.00,76.80 C543.50,77.09 544.00,77.38 544.50,77.67 C545.00,77.96 545.50,78.25 546.00,78.55 C546.50,78.85 547.00,79.16 547.50,79.46 C548.00,79.77 548.50,80.08 549.00,80.40 C549.50,80.72 550.00,81.03 550.50,81.36 C551.00,81.68 551.50,82.01 552.00,82.34 C552.50,82.68 553.00,83.01 553.50,83.35 C554.00,83.69 554.50,84.04 555.00,84.39 C555.50,84.74 556.00,85.09 556.50,85.45 C557.00,85.81 557.50,86.18 558.00,86.54 C558.50,86.91 559.00,87.29 559.50,87.66 C560.00,88.04 560.50,88.42 561.00,88.81 C561.50,89.20 562.00,89.59 562.50,89.99 C563.00,90.39 563.50,90.79 564.00,91.19 C564.50,91.60 565.00,92.02 565.50,92.43 C566.00,92.85 566.50,93.27 567.00,93.70 C567.50,94.13 568.00,94.56 568.50,95.00 C569.00,95.44 569.50,95.89 570.00,96.34 C570.50,96.79 571.00,97.24 571.50,97.71 C572.00,98.17 572.50,98.63 573.00,99.11 C573.50,99.58 574.00,100.06 574.50,100.55 C575.00,101.03 575.50,101.52 576.00,102.02 C576.50,102.52 577.00,103.02 577.50,103.53 C578.00,104.04 578.50,104.55 579.00,105.08 C579.50,105.60 580.00,106.13 580.50,106.66 C581.00,107.20 581.50,107.74 582.00,108.29 C582.50,108.83 583.00,109.39 583.50,109.95 C584.00,110.51 584.50,111.08 585.00,111.66 C585.50,112.23 586.00,112.81 586.50,113.40 C587.00,113.99 587.50,114.59 588.00,115.19 C588.50,115.80 589.00,116.41 589.50,117.03 C590.00,117.65 590.50,118.27 591.00,118.91 C591.50,119.54 592.00,120.18 592.50,120.83 C593.00,121.48 593.50,122.14 594.00,122.80 C594.50,123.47 595.00,124.14 595.50,124.82 C596.00,125.50 596.50,126.19 597.00,126.89 C597.50,127.59 598.00,128.29 598.50,129.01 C599.00,129.72 599.50,130.44 600.00,131.18 C600.50,131.91 601.00,132.65 601.50,133.40 C602.00,134.15 602.50,134.90 603.00,135.67 C603.50,136.44 604.00,137.21 604.50,138.00 C605.00,138.79 605.50,139.58 606.00,140.39 C606.50,141.19 607.00,142.00 607.50,142.83 C608.00,143.65 608.50,144.48 609.00,145.33 C609.50,146.17 610.00,147.02 610.50,147.89 C611.00,148.75 611.75,150.07 612.00,150.51" stroke="#ff0000"/>
<path d="M112.70,50.30 C114.05,50.00 117.65,48.80 120.80,48.50 C123.95,48.20 128.90,48.20 131.60,48.50 C134.30,48.80 135.35,49.25 137.00,50.30 C138.65,51.35 140.30,52.25 141.50,54.80 C142.70,57.35 143.45,59.90 144.20,65.60 C144.95,71.30 145.33,79.68 146.00,89.00 C146.67,98.32 147.45,121.50 148.20,121.50 C148.95,121.50 149.67,98.92 150.50,89.00 C151.33,79.08 152.15,67.85 153.20,62.00 C154.25,56.15 155.00,55.63 156.80,53.90 C158.60,52.17 161.73,51.78 164.00,51.60 C166.27,51.42 168.42,51.57 170.40,52.80 C172.38,54.03 174.08,56.15 175.90,59.00 C177.72,61.85 179.48,70.13 181.30,69.90 C183.12,69.67 184.98,60.78 186.80,57.60 C188.62,54.42 189.03,52.18 192.20,50.80 C195.37,49.42 202.77,49.55 205.80,49.30 C208.83,49.05 208.55,48.97 210.40,49.30 C212.25,49.63 215.13,50.42 216.90,51.30 C218.67,52.18 219.77,53.57 221.00,54.60 C222.23,55.63 223.35,56.82 224.30,57.50 C225.25,58.18 225.75,58.78 226.70,58.70 C227.65,58.62 228.90,57.82 230.00,57.00 C231.10,56.18 232.08,54.82 233.30,53.80 C234.52,52.78 235.68,51.62 237.30,50.90 C238.92,50.18 240.32,49.78 243.00,49.50 C245.68,49.22 249.58,48.87 253.40,49.20 C257.22,49.53 262.47,50.33 265.90,51.50 C269.33,52.67 271.73,54.05 274.00,56.20 C276.27,58.35 277.57,61.03 279.50,64.40 C281.43,67.77 283.57,76.40 285.60,76.40 C287.63,76.40 289.55,67.98 291.70,64.40 C293.85,60.82 294.42,57.12 298.50,54.90 C302.58,52.68 310.75,51.45 316.20,51.10 C321.65,50.75 327.23,51.82 331.20,52.80 C335.17,53.78 337.70,55.55 340.00,57.00 C342.30,58.45 343.50,59.50 345.00,61.50 C346.50,63.50 347.28,66.75 349.00,69.00 C350.72,71.25 353.47,74.75 355.30,75.00 C357.13,75.25 358.55,72.63 360.00,70.50 C361.45,68.37 362.33,64.57 364.00,62.20 C365.67,59.83 368.18,57.73 370.00,56.30 C371.82,54.87 373.20,54.35 374.90,53.60 C376.60,52.85 377.68,52.50 380.20,51.80 C382.72,51.10 388.12,49.81 390.00,49.41 C391.88,49.01 391.00,49.40 391.50,49.39 C392.00,49.38 392.50,49.38 393.00,49.37 C393.50,49.37 394.00,49.36 394.50,49.35 C395.00,49.35 395.50,49.34 396.00,49.34 C396.50,49.33 397.00,49.33 397.50,49.32 C398.00,49.32 398.50,49.31 399.00,49.30 C399.50,49.30 400.00,49.29 400.50,49.29 C401.00,49.28 401.50,49.28 402.00,49.27 C402.50,49.27 403.00,49.26 403.50,49.26 C404.00,49.25 404.50,49.25 405.00,49.24 C405.50,49.24 406.00,49.24 406.50,49.23 C407.00,49.23 407.50,49.22 408.00,49.22 C408.50,49.21 409.00,49.21 409.50,49.20 C410.00,49.20 410.50,49.20 411.00,49.19 C411.50,49.19 412.00,49.18 412.50,49.18 C413.00,49.18 413.50,49.17 414.00,49.17 C414.50,49.17 415.00,49.16 415.50,49.16 C416.00,49.16 416.50,49.15 417.00,49.15 C417.50,49.15 418.00,49.14 418.50,49.14 C419.00,49.14 419.50,49.13 420.00,49.13 C420.50,49.13 421.00,49.13 421.50,49.12 C422.00,49.12 422.50,49.12 423.00,49.12 C423.50,49.11 424.00,49.11 424.50,49.11 C425.00,49.11 425.50,49.11 426.00,49.10 C426.50,49.10 427.00,49.10 427.50,49.10 C428.00,49.10 428.50,49.10 429.00,49.10 C429.50,49.10 430.00,49.09 430.50,49.09 C431.00,49.09 431.50,49.09 432.00,49.09 C432.50,49.09 433.00,49.09 433.50,49.09 C434.00,49.09 434.50,49.09 435.00,49.09 C435.50,49.09 436.00,49.09 436.50,49.09 C437.00,49.09 437.50,49.09 438.00,49.09 C438.50,49.10 439.00,49.10 439.50,49.10 C440.00,49.10 440.50,49.10 441.00,49.10 C441.50,49.10 442.00,49.11 442.50,49.11 C443.00,49.11 443.50,49.11 444.00,49.12 C444.50,49.12 445.00,49.12 445.50,49.12 C446.00,49.13 446.50,49.13 447.00,49.13 C447.50,49.14 448.00,49.14 448.50,49.15 C449.00,49.15 449.50,49.15 450.00,49.16 C450.50,49.16 451.00,49.17 451.50,49.17 C452.00,49.18 452.50,49.18 453.00,49.19 C453.50,49.20 454.00,49.20 454.50,49.21 C455.00,49.21 455.50,49.22 456.00,49.23 C456.50,49.23 457.00,49.24 457.50,49.25 C458.00,49.26 458.50,49.26 459.00,49.27 C459.50,49.28 460.00,49.29 460.50,49.30 C461.00,49.31 461.50,49.32 462.00,49.33 C462.50,49.34 463.00,49.34 463.50,49.36 C464.00,49.37 464.50,49.38 465.00,49.39 C465.50,49.40 466.00,49.41 466.50,49.42 C467.00,49.43 467.50,49.45 468.00,49.46 C468.50,49.47 469.00,49.48 469.50,49.50 C470.00,49.51 470.50,49.53 471.00,49.54 C471.50,49.55 472.00,49.57 472.50,49.58 C473.00,49.60 473.50,49.62 474.00,49.63 C474.50,49.65 475.00,49.67 475.50,49.68 C476.00,49.70 476.50,49.72 477.00,49.74 C477.50,49.76 478.00,49.77 478.50,49.79 C479.00,49.81 479.50,49.83 480.00,49.85 C480.50,49.87 481.00,49.90 481.50,49.92 C482.00,49.94 482.50,49.96 483.00,49.99 C483.50,50.01 484.00,50.03 484.50,50.06 C485.00,50.08 485.50,50.11 486.00,50.13 C486.50,50.16 487.00,50.18 487.50,50.21 C488.00,50.24 488.50,50.27 489.00,50.29 C489.50,50.32 490.00,50.35 490.50,50.38 C491.00,50.41 491.50,50.44 492.00,50.47 C492.50,50.51 493.00,50.54 493.50,50.57 C494.00,50.60 494.50,50.64 495.00,50.67 C495.50,50.71 496.00,50.74 496.50,50.78 C497.00,50.82 497.50,50.86 498.00,50.89 C498.50,50.93 499.00,50.97 499.50,51.01 C500.00,51.05 500.50,51.09 501.00,51.14 C501.50,51.18 502.00,51.22 502.50,51.27 C503.00,51.31 503.50,51.36 504.00,51.40 C504.50,51.45 505.00,51.50 505.50,51.55 C506.00,51.59 506.50,51.64 507.00,51.70 C507.50,51.75 508.00,51.80 508.50,51.85 C509.00,51.91 509.50,51.96 510.00,52.02 C510.50,52.07 511.00,52.13 511.50,52.19 C512.00,52.25 512.50,52.31 513.00,52.37 C513.50,52.43 514.00,52.49 514.50,52.56 C515.00,52.62 515.50,52.69 516.00,52.75 C516.50,52.82 517.00,52.89 517.50,52.96 C518.00,53.03 518.50,53.10 519.00,53.18 C519.50,53.25 520.00,53.32 520.50,53.40 C521.00,53.48 521.50,53.56 522.00,53.64 C522.50,53.72 523.00,53.80 523.50,53.88 C524.00,53.96 524.50,54.05 525.00,54.14 C525.50,54.22 526.00,54.31 526.50,54.41 C527.00,54.50 527.50,54.59 528.00,54.68 C528.50,54.78 529.00,54.88 529.50,54.98 C530.00,55.08 530.50,55.18 531.00,55.28 C531.50,55.39 532.00,55.49 532.50,55.60 C533.00,55.71 533.50,55.82 534.00,55.93 C534.50,56.04 535.00,56.16 535.50,56.28 C536.00,56.40 536.50,56.52 537.00,56.64 C537.50,56.76 538.00,56.89 538.50,57.02 C539.00,57.14 539.50,57.28 540.00,57.41 C540.50,57.54 541.00,57.68 541.50,57.82 C542.00,57.96 542.50,58.10 543.00,58.25 C543.50,58.39 544.00,58.54 544.50,58.69 C545.00,58.84 545.50,59.00 546.00,59.16 C546.50,59.32 547.00,59.48 547.50,59.64 C548.00,59.81 548.50,59.98 549.00,60.15 C549.50,60.32 550.00,60.49 550.50,60.67 C551.00,60.85 551.50,61.04 552.00,61.22 C552.50,61.41 553.00,61.60 553.50,61.79 C554.00,61.99 554.50,62.19 555.00,62.39 C555.50,62.59 556.00,62.80 556.50,63.01 C557.00,63.22 557.50,63.44 558.00,63.66 C558.50,63.88 559.00,64.10 559.50,64.33 C560.00,64.56 560.50,64.79 561.00,65.03 C561.50,65.27 562.00,65.52 562.50,65.77 C563.00,66.01 563.50,66.27 564.00,66.53 C564.50,66.79 565.00,67.05 565.50,67.32 C566.00,67.59 566.50,67.87 567.00,68.15 C567.50,68.43 568.00,68.71 568.50,69.01 C569.00,69.30 569.50,69.60 570.00,69.90 C570.50,70.21 571.00,70.52 571.50,70.84 C572.00,71.16 572.50,71.48 573.00,71.81 C573.50,72.14 574.00,72.48 574.50,72.82 C575.00,73.17 575.50,73.52 576.00,73.88 C576.50,74.23 577.00,74.60 577.50,74.97 C578.00,75.35 578.50,75.73 579.00,76.12 C579.50,76.50 580.00,76.90 580.50,77.31 C581.00,77.71 581.50,78.12 582.00,78.54 C582.50,78.97 583.00,79.40 583.50,79.83 C584.00,80.27 584.50,80.72 585.00,81.18 C585.50,81.63 586.00,82.10 586.50,82.57 C587.00,83.05 587.50,83.53 588.00,84.03 C588.50,84.52 589.00,85.03 589.50,85.54 C590.00,86.06 590.50,86.58 591.00,87.12 C591.50,87.65 592.00,88.20 592.50,88.76 C593.00,89.32 593.50,89.88 594.00,90.47 C594.50,91.05 595.00,91.64 595.50,92.24 C596.00,92.85 596.50,93.46 597.00,94.09 C597.50,94.72 598.00,95.36 598.50,96.02 C599.00,96.67 599.50,97.34 600.00,98.02 C600.50,98.70 601.00,99.40 601.50,100.11 C602.00,100.81 602.50,101.54 603.00,102.28 C603.50,103.01 604.00,103.77 604.50,104.53 C605.00,105.30 605.50,106.08 606.00,106.88 C606.50,107.68 607.00,108.50 607.50,109.33 C608.00,110.16 608.50,111.01 609.00,111.87 C609.50,112.74 610.00,113.62 610.50,114.52 C611.00,115.42 611.50,116.34 612.00,117.28 C612.50,118.22 613.25,119.67 613.50,120.15" stroke="#00ff00"/>
</g>
<g>
<rect x="416.5" y="79.3" width="167" height="64.2" fill="#fff" stroke="#a0a0a0" stroke-width="1.2"/>
<line x1="418" y1="90.8" x2="455.5" y2="90.8" stroke="#0000ff" stroke-width="1.6"/>
<line x1="418" y1="111.7" x2="455.5" y2="111.7" stroke="#ff0000" stroke-width="1.6"/>
<line x1="418" y1="132" x2="455.5" y2="132" stroke="#00ff00" stroke-width="1.6"/>
<text x="459.3" y="96.4" font-size="14" textLength="81.3" lengthAdjust="spacingAndGlyphs">R <tspan font-size="17.5" dy="1">@</tspan><tspan dy="-1">5°AOI</tspan> Σ</text>
<text x="459.3" y="116.9" font-size="14" textLength="122.3" lengthAdjust="spacingAndGlyphs">R <tspan font-size="17.5" dy="1">@</tspan><tspan dy="-1">5°AOI</tspan> mirror S</text>
<text x="459.3" y="137.6" font-size="14" textLength="120.6" lengthAdjust="spacingAndGlyphs">R <tspan font-size="17.5" dy="1">@</tspan><tspan dy="-1">5°AOI</tspan> mirror L</text>
</g>
<g>
<rect x="126.6" y="193.5" width="191.2" height="64.5" fill="#fff" stroke="#a0a0a0" stroke-width="1.2"/>
<line x1="128.6" y1="205.5" x2="166.2" y2="205.5" stroke="#ff0000" stroke-width="1.6"/>
<line x1="128.6" y1="226.3" x2="166.2" y2="226.3" stroke="#0000ff" stroke-width="1.6"/>
<line x1="128.6" y1="246.6" x2="166.2" y2="246.6" stroke="#00ff00" stroke-width="1.6"/>
<text x="169.3" y="210.8" font-size="14" textLength="105.2" lengthAdjust="spacingAndGlyphs">GDD <tspan font-size="17.5" dy="1">@</tspan><tspan dy="-1">5°AOI</tspan> Σ</text>
<text x="169.3" y="231.3" font-size="14" textLength="146.2" lengthAdjust="spacingAndGlyphs">GDD <tspan font-size="17.5" dy="1">@</tspan><tspan dy="-1">5°AOI</tspan> mirror S</text>
<text x="169.3" y="251.6" font-size="14" textLength="143.6" lengthAdjust="spacingAndGlyphs">GDD <tspan font-size="17.5" dy="1">@</tspan><tspan dy="-1">5°AOI</tspan> mirror L</text>
</g>
<text x="88.60" y="210.57" font-size="19.5" text-anchor="end" textLength="23.2" lengthAdjust="spacingAndGlyphs">50</text>
<text x="88.60" y="263.20" font-size="19.5" text-anchor="end" textLength="12.3" lengthAdjust="spacingAndGlyphs">0</text>
<text x="88.60" y="315.82" font-size="19.5" text-anchor="end" textLength="30.5" lengthAdjust="spacingAndGlyphs">-50</text>
<text x="88.60" y="368.45" font-size="19.5" text-anchor="end" textLength="42.1" lengthAdjust="spacingAndGlyphs">-100</text>
<text x="88.60" y="421.07" font-size="19.5" text-anchor="end" textLength="42.1" lengthAdjust="spacingAndGlyphs">-150</text>
<text x="112.60" y="446.70" font-size="19.5" text-anchor="middle" textLength="36.3" lengthAdjust="spacingAndGlyphs">650</text>
<text x="184.23" y="446.70" font-size="19.5" text-anchor="middle" textLength="36.3" lengthAdjust="spacingAndGlyphs">700</text>
<text x="255.86" y="446.70" font-size="19.5" text-anchor="middle" textLength="36.3" lengthAdjust="spacingAndGlyphs">750</text>
<text x="327.49" y="446.70" font-size="19.5" text-anchor="middle" textLength="36.3" lengthAdjust="spacingAndGlyphs">800</text>
<text x="399.12" y="446.70" font-size="19.5" text-anchor="middle" textLength="36.3" lengthAdjust="spacingAndGlyphs">850</text>
<text x="470.75" y="446.70" font-size="19.5" text-anchor="middle" textLength="36.3" lengthAdjust="spacingAndGlyphs">900</text>
<text x="542.38" y="446.70" font-size="19.5" text-anchor="middle" textLength="36.3" lengthAdjust="spacingAndGlyphs">950</text>
<text x="614.01" y="446.70" font-size="19.5" text-anchor="middle" textLength="45.0" lengthAdjust="spacingAndGlyphs">1000</text>
<text x="639.00" y="55.30" font-size="19.5" text-anchor="start" textLength="50.4" lengthAdjust="spacingAndGlyphs">100.0</text>
<text x="639.00" y="92.10" font-size="19.5" text-anchor="start" textLength="38.8" lengthAdjust="spacingAndGlyphs">99.8</text>
<text x="639.00" y="128.90" font-size="19.5" text-anchor="start" textLength="38.8" lengthAdjust="spacingAndGlyphs">99.6</text>
<text x="639.00" y="165.70" font-size="19.5" text-anchor="start" textLength="38.8" lengthAdjust="spacingAndGlyphs">99.4</text>
<text x="285" y="486.1" font-size="22.5" textLength="157" lengthAdjust="spacingAndGlyphs">Wavelength, nm</text>
<text transform="translate(32,416.3) rotate(-90)" font-size="23.5" textLength="276.2" lengthAdjust="spacingAndGlyphs">Group delay dispersion, fs</text>
<text transform="translate(19.9,140.4) rotate(-90)" font-size="16.5">2</text>
<text transform="translate(720,160.8) rotate(-90)" font-size="22" textLength="147.7" lengthAdjust="spacingAndGlyphs">Reflectivity, %</text>
</svg>
</body></html>
